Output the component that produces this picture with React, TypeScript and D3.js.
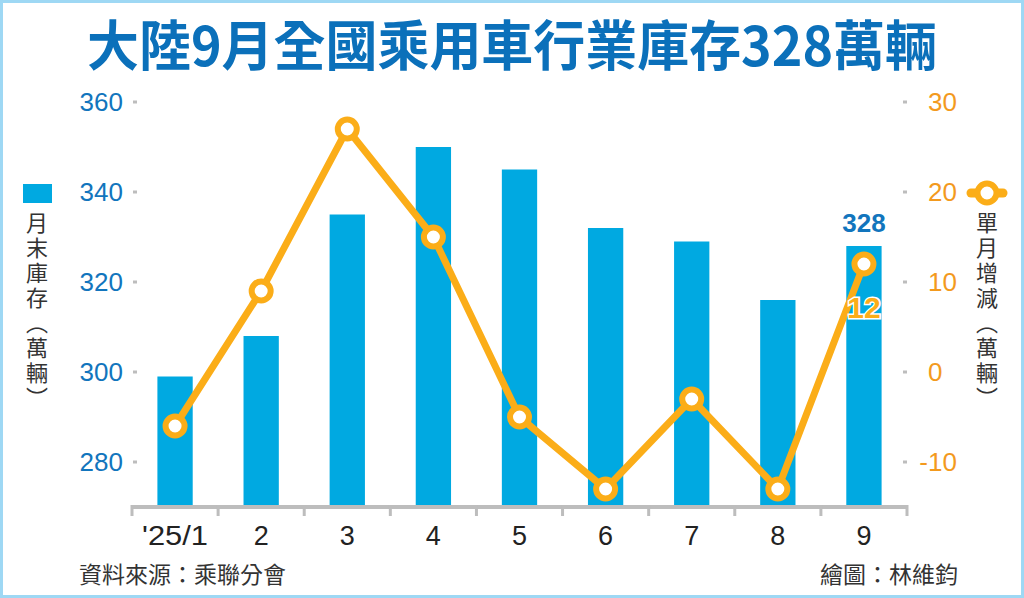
import React from "react";
import * as d3 from "d3";

const months = ["'25/1", "2", "3", "4", "5", "6", "7", "8", "9"];
const inventory = [299, 308, 335, 350, 345, 332, 329, 316, 328];
const monthlyChange = [-6, 9, 27, 15, -5, -13, -3, -13, 12];
const leftTicks = [280, 300, 320, 340, 360];
const rightTicks = [-10, 0, 10, 20, 30];

const W = 1024;
const H = 598;
const BLUE_BAR = "#00a9e1";
const ORANGE = "#fbad18";
const BLUE_TEXT = "#1275bd";
const ORANGE_TEXT = "#f39a1e";
const GRAY = "#bdbdbd";
const CJK = "'Noto Sans CJK TC', 'Noto Sans', sans-serif";
const NUM = "'Liberation Sans', Arial, sans-serif";

export default function App() {
  const x = d3.scaleBand<string>().domain(months).range([132, 907]).paddingInner(0.59).paddingOuter(0.295);
  const yL = d3.scaleLinear().domain([270, 360]).range([507, 102]);
  const yR = d3.scaleLinear().domain([-15, 30]).range([507, 102]);
  const step = x.step();
  const cx = (m: string) => (x(m) as number) + x.bandwidth() / 2;

  const line = d3
    .line<number>()
    .x((_, i) => cx(months[i]))
    .y((d) => yR(d));

  const boundaries = d3.range(months.length + 1).map((i) => 132 + i * step);

  return (
    <svg
      width={W}
      height={H}
      viewBox={`0 0 ${W} ${H}`}
      style={{ position: "absolute", left: 0, top: 0, background: "#fff" }}
    >
      <rect x={1.5} y={1.5} width={W - 3} height={H - 3} fill="#fff" stroke="#9ed8f4" strokeWidth={3} />

      <text
        x={W / 2}
        y={66}
        textAnchor="middle"
        fontFamily={CJK}
        fontWeight={700}
        fontSize={54}
        fill="#0b70ba"
        textLength={850}
        lengthAdjust="spacingAndGlyphs"
      >
        大陸9月全國乘用車行業庫存328萬輛
      </text>

      {/* bars */}
      {months.map((m, i) => (
        <rect
          key={m}
          x={x(m)}
          y={yL(inventory[i])}
          width={x.bandwidth()}
          height={505 - yL(inventory[i])}
          fill={BLUE_BAR}
        />
      ))}

      {/* x axis */}
      <line x1={132} x2={907} y1={507} y2={507} stroke={GRAY} strokeWidth={4} />
      {boundaries.map((bx, i) => (
        <line key={i} x1={bx} x2={bx} y1={505} y2={516} stroke={GRAY} strokeWidth={3} />
      ))}
      {months.map((m) => (
        <text
          key={m}
          x={cx(m)}
          y={545}
          textAnchor="middle"
          fontFamily={NUM}
          fontSize={27}
          fill="#222"
          textLength={m.length > 1 ? 66 : undefined}
          lengthAdjust="spacingAndGlyphs"
        >
          {m}
        </text>
      ))}

      {/* left axis */}
      {leftTicks.map((t) => (
        <g key={t}>
          <rect x={133} y={yL(t) - 1.5} width={4} height={3} fill={GRAY} />
          <text x={123} y={yL(t) + 9} textAnchor="end" fontFamily={NUM} fontSize={26} fill={BLUE_TEXT}>
            {t}
          </text>
        </g>
      ))}

      {/* right axis */}
      {rightTicks.map((t) => (
        <g key={t}>
          <rect x={903} y={yR(t) - 1.5} width={4} height={3} fill={GRAY} />
          <text x={928} y={yR(t) + 9} textAnchor="start" fontFamily={NUM} fontSize={26} fill={ORANGE_TEXT}>
            {Math.abs(t)}
          </text>
          {t < 0 && (
            <text x={928} y={yR(t) + 9} textAnchor="end" fontFamily={NUM} fontSize={26} fill={ORANGE_TEXT}>
              -
            </text>
          )}
        </g>
      ))}

      {/* line */}
      <path d={line(monthlyChange) || ""} fill="none" stroke={ORANGE} strokeWidth={7} strokeLinejoin="round" />
      {monthlyChange.map((v, i) => (
        <circle key={i} cx={cx(months[i])} cy={yR(v)} r={9.5} fill="#fff" stroke={ORANGE} strokeWidth={6} />
      ))}

      {/* labels for last */}
      <text
        x={cx(months[8])}
        y={yL(inventory[8]) - 14}
        textAnchor="middle"
        fontFamily={NUM}
        fontWeight={700}
        fontSize={26}
        fill={BLUE_TEXT}
      >
        {inventory[8]}
      </text>
      <text
        x={cx(months[8])}
        y={318}
        textAnchor="middle"
        fontFamily={NUM}
        fontWeight={700}
        fontSize={30}
        fill={ORANGE}
        stroke="#fff"
        strokeWidth={3}
        paintOrder="stroke"
      >
        {monthlyChange[8]}
      </text>

      {/* left legend */}
      <rect x={23} y={184} width={29} height={19} fill={BLUE_BAR} />
      <text
        x={37}
        y={212}
        fontFamily={CJK}
        fontSize={22}
        fill="#333"
        style={{ writingMode: "vertical-rl" } as React.CSSProperties}
        letterSpacing={3}
      >
        月末庫存（萬輛）
      </text>

      {/* right legend */}
      <line x1={971} x2={1003} y1={193} y2={193} stroke={ORANGE} strokeWidth={9} strokeLinecap="round" />
      <circle cx={987} cy={193} r={9.5} fill="#fff" stroke={ORANGE} strokeWidth={6} />
      <text
        x={987}
        y={212}
        fontFamily={CJK}
        fontSize={22}
        fill="#333"
        style={{ writingMode: "vertical-rl" } as React.CSSProperties}
        letterSpacing={3}
      >
        單月增減（萬輛）
      </text>

      {/* footer */}
      <text x={79} y={583} fontFamily={CJK} fontSize={23} fill="#333">
        資料來源：乘聯分會
      </text>
      <text x={958} y={583} textAnchor="end" fontFamily={CJK} fontSize={23} fill="#333">
        繪圖：林維鈞
      </text>
    </svg>
  );
}
